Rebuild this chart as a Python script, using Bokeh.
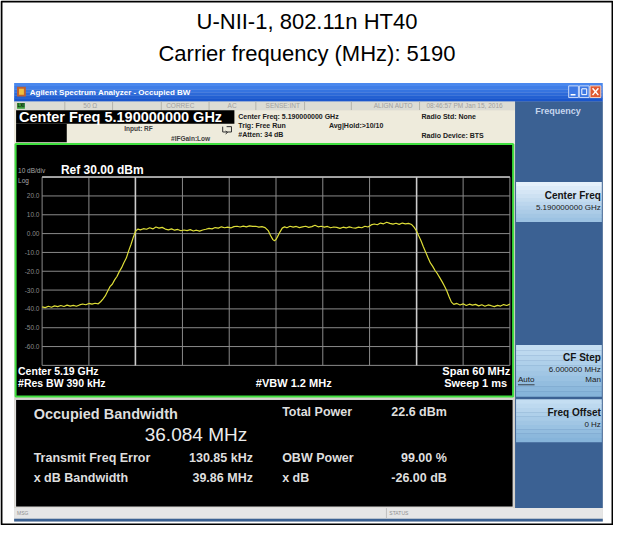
from bokeh.plotting import figure
from bokeh.models import Range1d
from bokeh.core.properties import value
from bokeh.embed import file_html
from bokeh.resources import INLINE

# ---------------- data ----------------
TITLE_1 = "U-NII-1, 802.11n HT40"
TITLE_2 = "Carrier frequency (MHz): 5190"

SPAN_MHZ = 60.0
REF_DBM = 30.0
BOTTOM_DBM = -70.0
FREQ_TICKS_MHZ = [-30, -24, -18, -12, -6, 0, 6, 12, 18, 24, 30]
DB_TICKS = [30, 20, 10, 0, -10, -20, -30, -40, -50, -60, -70]
DB_LABEL_VALUES = [20, 10, 0, -10, -20, -30, -40, -50, -60]
DB_LABELS = ["20.0", "10.0", "0.00", "-10.0", "-20.0", "-30.0", "-40.0", "-50.0", "-60.0"]
OBW_EDGES_MHZ = [-18.04, 18.04]

FREQ_OFFSET_MHZ = [
    -30.0, -29.6, -29.2, -28.8, -28.4, -28.0, -27.6, -27.2, -26.8, -26.4,
    -26.0, -25.6, -25.2, -24.8, -24.4, -24.0, -23.6, -23.2, -22.8, -22.5,
    -22.2, -21.9, -21.6, -21.3, -21.0, -20.7, -20.4, -20.1, -19.8, -19.5,
    -19.2, -18.9, -18.6, -18.3, -18.0, -17.7, -17.4, -17.0, -16.6, -16.2,
    -15.8, -15.4, -15.0, -14.6, -14.2, -13.8, -13.4, -13.0, -12.6, -12.2,
    -11.8, -11.4, -11.0, -10.6, -10.2, -9.8, -9.4, -9.0, -8.6, -8.2,
    -7.8, -7.4, -7.0, -6.6, -6.2, -5.8, -5.4, -5.0, -4.6, -4.2,
    -3.8, -3.4, -3.0, -2.6, -2.2, -1.8, -1.4, -1.0, -0.7, -0.4,
    -0.2, 0.0, 0.2, 0.5, 0.8, 1.1, 1.4, 1.8, 2.2, 2.6,
    3.0, 3.4, 3.8, 4.2, 4.6, 5.0, 5.4, 5.8, 6.2, 6.6,
    7.0, 7.4, 7.8, 8.2, 8.6, 9.0, 9.4, 9.8, 10.2, 10.6,
    11.0, 11.4, 11.8, 12.2, 12.6, 13.0, 13.4, 13.8, 14.2, 14.6,
    15.0, 15.4, 15.8, 16.2, 16.6, 17.0, 17.4, 17.7, 18.0, 18.3,
    18.6, 18.9, 19.2, 19.5, 19.8, 20.1, 20.4, 20.7, 21.0, 21.3,
    21.6, 21.9, 22.2, 22.5, 22.8, 23.2, 23.6, 24.0, 24.4, 24.8,
    25.2, 25.6, 26.0, 26.4, 26.8, 27.2, 27.6, 28.0, 28.4, 28.8,
    29.2, 29.6, 30.0,
]
LEVEL_DBM = [
    -38.9, -39.3, -38.6, -39.1, -38.4, -38.8, -38.2, -38.7, -38.0, -38.5,
    -38.1, -38.6, -37.9, -37.4, -37.8, -37.1, -37.5, -37.0, -37.3, -36.2,
    -34.8, -33.1, -30.6, -28.2, -26.9, -24.6, -22.8, -20.2, -18.1, -15.4,
    -13.0, -9.2, -5.8, -1.9, 1.4, 2.4, 2.0, 2.6, 2.3, 3.1,
    2.5, 3.5, 2.9, 3.3, 2.4, 2.0, 2.5, 1.8, 2.2, 1.5,
    1.9, 1.6, 2.1, 1.4, 1.8, 1.3, 1.9, 2.3, 2.8, 2.5,
    3.2, 2.9, 3.6, 3.1, 3.4, 3.0, 3.7, 3.9, 3.5, 4.0,
    3.6, 4.1, 3.8, 3.9, 3.4, 3.7, 3.2, 1.6, -1.0, -3.2,
    -3.8, -3.1, -1.6, 0.8, 2.9, 3.6, 3.1, 3.9, 3.4, 3.8,
    3.2, 3.6, 3.9, 3.3, 3.7, 4.4, 3.6, 3.9, 3.4, 3.8,
    3.1, 3.5, 3.3, 2.8, 3.4, 3.0, 3.6, 3.1, 2.9, 3.4,
    3.1, 3.9, 3.5, 4.6, 5.1, 4.7, 5.6, 5.2, 6.0, 5.4,
    5.0, 5.5, 4.9, 5.6, 5.2, 5.4, 4.8, 3.4, 1.5, -1.2,
    -3.8, -7.0, -9.9, -12.8, -15.6, -17.4, -19.6, -21.3, -23.4, -25.5,
    -27.8, -30.4, -33.5, -36.4, -37.6, -37.1, -37.9, -37.3, -38.2, -37.5,
    -38.0, -37.6, -38.4, -37.8, -38.6, -37.9, -38.3, -38.8, -38.1, -38.5,
    -37.7, -38.2, -37.4,
]

# ---------------- layout (reference pixel space) ----------------
W, H = 629, 541
GX0, GX1 = 42.7, 522.7     # grid left/right
GY0, GY1 = 182.0, 376.0    # grid top/bottom

FONT = value("Liberation Sans")

p = figure(width=613, height=525, x_range=Range1d(0, W), y_range=Range1d(H, 0),
           output_backend="svg", toolbar_location=None,
           x_axis_location=None, y_axis_location=None, min_border=0)
p.outline_line_color = None
p.background_fill_color = "white"
p.border_fill_color = "white"
p.grid.visible = False

ppm = (GX1 - GX0) / SPAN_MHZ
ppd = (GY1 - GY0) / (REF_DBM - BOTTOM_DBM)
p.extra_x_ranges = {"mhz": Range1d(-SPAN_MHZ / 2 - GX0 / ppm, SPAN_MHZ / 2 + (W - GX1) / ppm)}
p.extra_y_ranges = {"dbm": Range1d(BOTTOM_DBM - (H - GY1) / ppd, REF_DBM + GY0 / ppd)}


def box(l, r, t, b, color, line=None, lw=1):
    p.quad(left=[l], right=[r], top=[t], bottom=[b], fill_color=color,
           line_color=line, line_width=lw)


def grad(l, r, t, b, c0, c1, n=8):
    def hx(c):
        return [int(c[i:i + 2], 16) for i in (1, 3, 5)]
    a, z = hx(c0), hx(c1)
    h = (b - t) / n
    for i in range(n):
        f = i / (n - 1)
        col = "#%02x%02x%02x" % tuple(int(a[k] + (z[k] - a[k]) * f) for k in range(3))
        box(l, r, t + i * h, t + (i + 1) * h + 0.3, col)


def txt(x, y, s, size, color, bold=False, align="left"):
    p.text(x=[x], y=[y], text=[s], text_font=FONT, text_font_size=f"{size}px",
           text_color=color, text_font_style="bold" if bold else "normal",
           text_align=align, text_baseline="middle")


# outer frame + title
box(1, W - 1, 1, H - 1, None, line="black", lw=2)
txt(W / 2, 22, TITLE_1, 22, "black", align="center")
txt(W / 2, 55, TITLE_2, 22, "black", align="center")

# screenshot window
box(14, 618, 104, 537, "#d4d0c8")
grad(14, 618, 85, 104, "#4a88ee", "#1a56cc", n=6)
box(17, 26, 89, 99, "#c06030")
box(19, 24, 91, 97, "#f0c040")
txt(30, 94.5, "Agilent Spectrum Analyzer - Occupied BW", 8, "white", bold=True)
box(583, 593, 88, 100, "#3d78e4", line="#c8d8f8")
box(594, 604, 88, 100, "#3d78e4", line="#c8d8f8")
box(605, 616, 88, 100, "#e05a32", line="#f8d0c0")
p.segment(x0=[585], y0=[97], x1=[590], y1=[97], line_color="white", line_width=1.5)
box(596.5, 601.5, 91, 97, None, line="white", lw=1)
p.segment(x0=[607.5, 607.5], y0=[90.5, 97.5], x1=[613.5, 613.5], y1=[97.5, 90.5],
          line_color="white", line_width=1.5)

# status row
box(14, 528, 104, 113, "#dcdcd4")
for sx in [66, 115, 165, 214, 262, 312, 360, 430]:
    p.segment(x0=[sx], y0=[104], x1=[sx], y1=[113], line_color="#b4b4ac", line_width=1)
box(17, 25, 105.5, 111.5, "#3a9a3a")
txt(21, 108.7, "LXI", 4.5, "#102010", bold=True, align="center")
for sx, s in [(85, "50 Ω"), (170, "CORREC"), (233, "AC"), (272, "SENSE:INT"),
              (383, "ALIGN AUTO"), (437, "08:46:57 PM Jan 15, 2016")]:
    txt(sx, 108.7, s, 6.5, "#a0a0a0")

# beige info area
box(14, 528, 113, 148, "#eeebdc")
box(16, 240, 113, 127, "black")
txt(19, 120.3, "Center Freq  5.190000000 GHz", 14.5, "white", bold=True)
box(16, 68, 127, 146, "black")
txt(127, 132, "Input: RF", 6.5, "#404040", bold=True)
txt(175, 142.5, "#IFGain:Low", 6.5, "#404040", bold=True)
p.line(x=[228, 228, 237, 237, 232], y=[130, 135.5, 135.5, 130, 130], line_color="#303030", line_width=1)
p.line(x=[231, 233, 231], y=[137.5, 136, 134.5], line_color="#303030", line_width=1)
txt(244, 120, "Center Freq: 5.190000000 GHz", 7, "#202020", bold=True)
txt(244, 129, "Trig: Free Run", 7, "#202020", bold=True)
txt(244, 138, "#Atten: 34 dB", 7, "#202020", bold=True)
txt(337, 129, "Avg|Hold:>10/10", 7, "#202020", bold=True)
txt(432, 120, "Radio Std: None", 7, "#202020", bold=True)
txt(432, 139, "Radio Device: BTS", 7, "#202020", bold=True)

# measurement screen
box(15.5, 526, 148, 408, "black", line="#40e040", lw=2)
txt(18, 175, "10 dB/div", 6.5, "#a8a8a8")
txt(62, 175, "Ref 30.00 dBm", 12, "white", bold=True)
txt(18, 186, "Log", 6.5, "#a8a8a8")

p.segment(x0=FREQ_TICKS_MHZ, y0=[BOTTOM_DBM] * len(FREQ_TICKS_MHZ),
          x1=FREQ_TICKS_MHZ, y1=[REF_DBM] * len(FREQ_TICKS_MHZ),
          x_range_name="mhz", y_range_name="dbm", line_color="#8a8a8a", line_width=1)
p.segment(x0=[FREQ_TICKS_MHZ[0]] * len(DB_TICKS), y0=DB_TICKS,
          x1=[FREQ_TICKS_MHZ[-1]] * len(DB_TICKS), y1=DB_TICKS,
          x_range_name="mhz", y_range_name="dbm", line_color="#8a8a8a", line_width=1)
p.segment(x0=[FREQ_TICKS_MHZ[0]], y0=[REF_DBM], x1=[FREQ_TICKS_MHZ[-1]], y1=[REF_DBM],
          x_range_name="mhz", y_range_name="dbm", line_color="#c0c0c0", line_width=1.5)
p.segment(x0=OBW_EDGES_MHZ, y0=[BOTTOM_DBM] * 2, x1=OBW_EDGES_MHZ, y1=[REF_DBM] * 2,
          x_range_name="mhz", y_range_name="dbm", line_color="#cccccc", line_width=1.5)
p.text(x=[40] * len(DB_LABELS), y=DB_LABEL_VALUES, text=DB_LABELS, y_range_name="dbm",
       text_font=FONT, text_font_size="6.5px", text_color="#8a8a8a",
       text_align="right", text_baseline="middle")
p.line(x=FREQ_OFFSET_MHZ, y=LEVEL_DBM, x_range_name="mhz", y_range_name="dbm",
       line_color="#dede38", line_width=1.2)

txt(18, 382, "Center  5.19 GHz", 10.5, "white", bold=True)
txt(18, 394, "#Res BW  390 kHz", 10.5, "white", bold=True)
txt(262, 394, "#VBW  1.2 MHz", 11, "white", bold=True)
txt(523, 382, "Span 60 MHz", 11, "white", bold=True, align="right")
txt(523, 394, "Sweep  1 ms", 11, "white", bold=True, align="right")

# results panel
box(15.5, 526, 411, 522, "black", line="#e8e8e8", lw=1)
RC = "#dedede"
txt(34, 426, "Occupied Bandwidth", 14.5, RC, bold=True)
txt(148, 447, "36.084 MHz", 19, "#ececec")
txt(289, 424, "Total Power", 12.5, RC, bold=True)
txt(458, 424, "22.6 dBm", 12.5, RC, bold=True, align="right")
txt(34, 471, "Transmit Freq Error", 12.5, RC, bold=True)
txt(259, 471, "130.85 kHz", 12.5, RC, bold=True, align="right")
txt(289, 471, "OBW Power", 12.5, RC, bold=True)
txt(458, 471, "99.00 %", 12.5, RC, bold=True, align="right")
txt(34, 492, "x dB Bandwidth", 12.5, RC, bold=True)
txt(259, 492, "39.86 MHz", 12.5, RC, bold=True, align="right")
txt(289, 492, "x dB", 12.5, RC, bold=True)
txt(458, 492, "-26.00 dB", 12.5, RC, bold=True, align="right")

# soft-key column
box(528, 618, 104, 523, "#3b6193")
txt(572, 114, "Frequency", 9, "#c6d6ee", bold=True, align="center")
grad(529, 617, 187, 228, "#e6f1fb", "#9cc2e2", n=10)
txt(616, 201, "Center Freq", 10, "#141414", bold=True, align="right")
txt(616, 213, "5.190000000 GHz", 8, "#202020", align="right")
grad(529, 617, 355, 408, "#c4def2", "#86b4da", n=10)
txt(616, 368, "CF Step", 10, "#141414", bold=True, align="right")
txt(616, 380, "6.000000 MHz", 8, "#202020", align="right")
txt(531, 391, "Auto", 8, "#202020")
p.segment(x0=[531], y0=[396], x1=[548], y1=[396], line_color="#202020", line_width=0.8)
txt(616, 391, "Man", 8, "#202020", align="right")
grad(529, 617, 411, 455, "#c4def2", "#86b4da", n=10)
txt(616, 425, "Freq Offset", 10, "#141414", bold=True, align="right")
txt(616, 437, "0 Hz", 8, "#202020", align="right")

# message bar
box(14, 618, 523, 534, "#e6e6e6")
box(14, 618, 534, 537, "#3b6193")
p.segment(x0=[396], y0=[523], x1=[396], y1=[534], line_color="#c0c0c0", line_width=1)
txt(17, 528.5, "MSG", 5, "#909090")
txt(399, 528.5, "STATUS", 5, "#909090")

open("out.html", "w").write(file_html(p, INLINE))
